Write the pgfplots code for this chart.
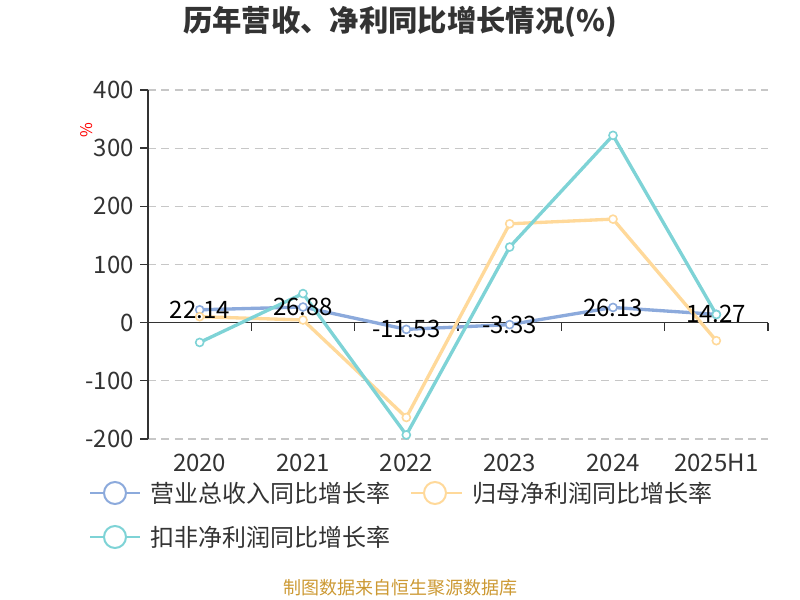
\documentclass[border=0pt]{standalone}
\usepackage{fontspec}
\setmainfont{Noto Sans CJK SC}
\usepackage{pgfplots}
\pgfplotsset{compat=1.18}
\definecolor{cblue}{HTML}{8CAADC}
\definecolor{corange}{HTML}{FFD99A}
\definecolor{cteal}{HTML}{7ED3D6}
\definecolor{src}{HTML}{CC9933}
\definecolor{txt}{HTML}{333333}
\begin{document}
\begin{tikzpicture}[x=1pt,y=1pt]
\useasboundingbox (0,0) rectangle (600,450);
\begin{axis}[
  at={(111pt,120.75pt)}, anchor=south west,
  width=465pt, height=261.75pt, scale only axis,
  xmin=-0.5, xmax=5.5, ymin=-200, ymax=400,
  ytick={-200,-100,...,400},
  xtick={0,...,5},
  xticklabels={2020,2021,2022,2023,2024,2025H1},
  axis y line=left, axis x line=bottom,
  x axis line style={draw=none},
  y axis line style={-, draw=txt, line width=1pt},
  xtick style={draw=none},
  ytick style={draw=txt, line width=1pt},
  tick align=outside, major tick length=6pt,
  ymajorgrids,
  grid style={dash pattern=on 6pt off 4pt, draw=black!22, line width=0.9pt},
  ticklabel style={font=\fontsize{18}{18}\selectfont, text=txt},
  /pgf/number format/assume math mode=true,
  yticklabel style={xshift=-1pt},
  xticklabel style={yshift=-2pt},
  clip=false,
  every axis plot/.append style={line width=2.5pt, mark=*, mark size=3pt,
    mark options={fill=white, line width=1.2pt}},
]
% zero line with category ticks
\draw[txt, line width=1pt] (axis cs:-0.5,0) -- (axis cs:5.5,0);
\draw[txt, line width=1pt] (axis cs:0.5,0) -- ++(0pt,-6pt);
\draw[txt, line width=1pt] (axis cs:1.5,0) -- ++(0pt,-6pt);
\draw[txt, line width=1pt] (axis cs:2.5,0) -- ++(0pt,-6pt);
\draw[txt, line width=1pt] (axis cs:3.5,0) -- ++(0pt,-6pt);
\draw[txt, line width=1pt] (axis cs:4.5,0) -- ++(0pt,-6pt);
\draw[txt, line width=1pt] (axis cs:5.5,0) -- ++(0pt,-6pt);

% 营业总收入同比增长率
\addplot[color=cblue] coordinates {
  (0,22.14) (1,26.88) (2,-11.53) (3,-3.33) (4,26.13) (5,14.27)
};
% 归母净利润同比增长率
\addplot[color=corange] coordinates {
  (0,10.3) (1,4.6) (2,-163) (3,170) (4,178) (5,-31)
};
% 扣非净利润同比增长率
\addplot[color=cteal] coordinates {
  (0,-34) (1,50) (2,-193) (3,130) (4,322) (5,14)
};
% labels of the revenue series
\addplot[draw=none, mark=none, point meta=explicit symbolic, nodes near coords,
  every node near coord/.append style={anchor=center, text=black,
    font=\fontsize{18}{18}\selectfont}] coordinates {
  (0,22.14)[22.14] (1,26.88)[26.88] (2,-11.53)[-11.53]
  (3,-3.33)[-3.33] (4,26.13)[26.13] (5,14.27)[14.27]
};
\end{axis}

\node[font=\bfseries\fontsize{22}{22}\selectfont, text=txt] at (300,433.5)
  {历年营收、净利同比增长情况(\%)};
\node[red, rotate=90, font=\fontsize{12}{12}\selectfont] at (65.25,352.5) {\%};

% legend
\draw[cblue, line width=1.5pt] (67.5,80.25) -- (105,80.25);
\draw[cblue, line width=1.5pt, fill=white] (86.25,80.25) circle (8.25);
\node[anchor=west, inner sep=0, text=txt, font=\fontsize{18}{18}\selectfont]
  at (112.5,80.25) {营业总收入同比增长率};
\draw[corange, line width=1.5pt] (308.25,80.25) -- (346.5,80.25);
\draw[corange, line width=1.5pt, fill=white] (326.25,80.25) circle (8.25);
\node[anchor=west, inner sep=0, text=txt, font=\fontsize{18}{18}\selectfont]
  at (354,80.25) {归母净利润同比增长率};
\draw[cteal, line width=1.5pt] (67.5,47.25) -- (105,47.25);
\draw[cteal, line width=1.5pt, fill=white] (86.25,47.25) circle (8.25);
\node[anchor=west, inner sep=0, text=txt, font=\fontsize{18}{18}\selectfont]
  at (112.5,47.25) {扣非净利润同比增长率};

\node[text=src, font=\fontsize{13.5}{13.5}\selectfont] at (300,9)
  {制图数据来自恒生聚源数据库};
\end{tikzpicture}
\end{document}
